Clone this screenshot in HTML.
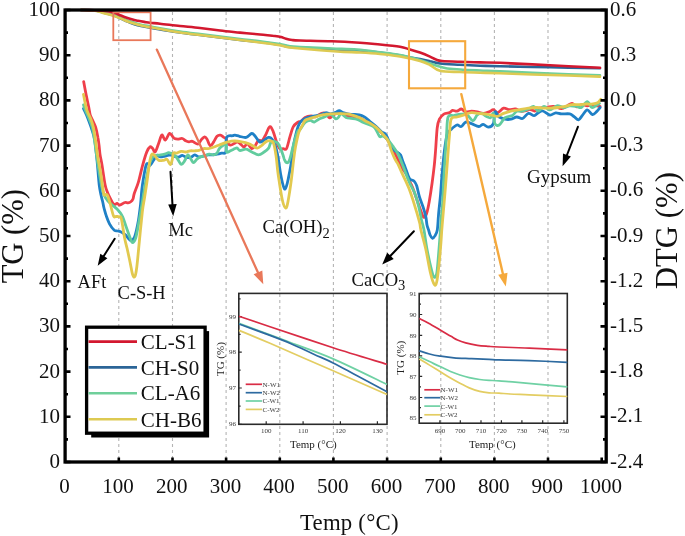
<!DOCTYPE html><html><head><meta charset="utf-8"><style>html,body{margin:0;padding:0;background:#fff;}svg{display:block;filter:blur(0.45px);}</style></head><body>
<svg width="685" height="536" viewBox="0 0 685 536">
<rect width="685" height="536" fill="#fff"/>
<g stroke="#b4b4b4" stroke-width="1.1" stroke-dasharray="3 3"><line x1="118.8" y1="12" x2="118.8" y2="460" /><line x1="172.5" y1="12" x2="172.5" y2="460" /><line x1="226.1" y1="12" x2="226.1" y2="460" /><line x1="279.8" y1="12" x2="279.8" y2="460" /><line x1="333.4" y1="12" x2="333.4" y2="460" /><line x1="387.1" y1="12" x2="387.1" y2="460" /><line x1="440.8" y1="12" x2="440.8" y2="460" /><line x1="494.4" y1="12" x2="494.4" y2="460" /><line x1="548.0" y1="12" x2="548.0" y2="460" /></g>
<rect x="238.8" y="293.4" width="148.2" height="130.90000000000003" fill="none" stroke="#2a2a2a" stroke-width="1.6"/><path d="M238.8,316.6 h3 M238.8,352.2 h3 M238.8,388 h3 M238.8,424.3 h3 M238.8,334.4 h1.8 M238.8,370.1 h1.8 M238.8,406.1 h1.8 M238.8,298.8 h1.8 M266.2,424.3 v-3 M303.1,424.3 v-3 M340.4,424.3 v-3 M377.4,424.3 v-3" stroke="#2a2a2a" stroke-width="1.2" fill="none"/><g font-family="Liberation Serif, serif" font-size="7" fill="#383838"><text x="236" y="318.6" text-anchor="end">99</text><text x="236" y="354.2" text-anchor="end">98</text><text x="236" y="390" text-anchor="end">97</text><text x="236" y="426.3" text-anchor="end">96</text><text x="266.2" y="433" text-anchor="middle">100</text><text x="303.1" y="433" text-anchor="middle">110</text><text x="340.4" y="433" text-anchor="middle">120</text><text x="377.4" y="433" text-anchor="middle">130</text></g><text font-family="Liberation Serif, serif" font-size="11" fill="#222" text-anchor="middle" x="313.3" y="447.8">Temp (&#176;C)</text><text font-family="Liberation Serif, serif" font-size="11" fill="#222" text-anchor="middle" transform="translate(224.4,359.1) rotate(-90)">TG (%)</text><path d="M239.0,316.2 C244.2,317.9 254.3,321.4 270.0,326.7 C285.7,331.9 313.6,341.4 333.1,347.7 C352.6,354.0 378.0,361.5 387.0,364.3" fill="none" stroke="#d92c45" stroke-width="1.7"/><path d="M239.0,323.4 C244.2,325.3 261.3,331.7 270.0,334.9 C278.7,338.1 280.5,338.8 291.0,342.8 C301.5,346.8 317.1,351.9 333.1,358.9 C349.1,365.8 378.0,380.2 387.0,384.5" fill="none" stroke="#6fd1a4" stroke-width="1.7"/><path d="M239.0,324.0 C244.2,325.9 261.3,332.1 270.0,335.4 C278.7,338.7 283.7,340.6 291.0,343.7 C298.3,346.8 306.8,351.0 313.8,354.2 C320.8,357.4 325.8,359.2 333.1,362.9 C340.4,366.5 348.6,371.3 357.6,376.1 C366.6,380.9 382.1,389.2 387.0,391.8" fill="none" stroke="#2d6aa0" stroke-width="1.7"/><path d="M239.0,330.4 C244.2,332.5 254.3,336.6 270.0,343.3 C285.7,350.0 313.6,362.3 333.1,370.8 C352.6,379.3 378.0,390.6 387.0,394.5" fill="none" stroke="#e3cd62" stroke-width="1.7"/><line x1="245.7" y1="384.3" x2="262" y2="384.3" stroke="#d92c45" stroke-width="1.7"/><text font-family="Liberation Serif, serif" font-size="7" fill="#383838" x="262.5" y="386.7">N-W1</text><line x1="245.7" y1="392.7" x2="262" y2="392.7" stroke="#2d6aa0" stroke-width="1.7"/><text font-family="Liberation Serif, serif" font-size="7" fill="#383838" x="262.5" y="395.09999999999997">N-W2</text><line x1="245.7" y1="401" x2="262" y2="401" stroke="#6fd1a4" stroke-width="1.7"/><text font-family="Liberation Serif, serif" font-size="7" fill="#383838" x="262.5" y="403.4">C-W1</text><line x1="245.7" y1="409.4" x2="262" y2="409.4" stroke="#e3cd62" stroke-width="1.7"/><text font-family="Liberation Serif, serif" font-size="7" fill="#383838" x="262.5" y="411.79999999999995">C-W2</text><rect x="419.2" y="293.5" width="148.09999999999997" height="129.7" fill="none" stroke="#2a2a2a" stroke-width="1.6"/><path d="M419.2,293.6 h3 M419.2,314.5 h3 M419.2,335.4 h3 M419.2,355.9 h3 M419.2,376.4 h3 M419.2,397.5 h3 M419.2,417.7 h3 M419.2,304.1 h1.8 M419.2,324.9 h1.8 M419.2,345.6 h1.8 M419.2,366.1 h1.8 M419.2,386.9 h1.8 M419.2,407.6 h1.8 M439.9,423.2 v-3 M460.3,423.2 v-3 M481,423.2 v-3 M501.4,423.2 v-3 M521.9,423.2 v-3 M542.7,423.2 v-3 M563.9,423.2 v-3" stroke="#2a2a2a" stroke-width="1.2" fill="none"/><g font-family="Liberation Serif, serif" font-size="7" fill="#383838"><text x="416.5" y="295.90000000000003" text-anchor="end">91</text><text x="416.5" y="316.8" text-anchor="end">90</text><text x="416.5" y="337.7" text-anchor="end">89</text><text x="416.5" y="358.2" text-anchor="end">88</text><text x="416.5" y="378.7" text-anchor="end">87</text><text x="416.5" y="399.8" text-anchor="end">86</text><text x="416.5" y="420.0" text-anchor="end">85</text><text x="439.9" y="432.5" text-anchor="middle">690</text><text x="460.3" y="432.5" text-anchor="middle">700</text><text x="481" y="432.5" text-anchor="middle">710</text><text x="501.4" y="432.5" text-anchor="middle">720</text><text x="521.9" y="432.5" text-anchor="middle">730</text><text x="542.7" y="432.5" text-anchor="middle">740</text><text x="563.9" y="432.5" text-anchor="middle">750</text></g><text font-family="Liberation Serif, serif" font-size="11" fill="#222" text-anchor="middle" x="492.3" y="447.8">Temp (&#176;C)</text><text font-family="Liberation Serif, serif" font-size="11" fill="#222" text-anchor="middle" transform="translate(404.2,357.7) rotate(-90)">TG (%)</text><path d="M419.3,318.6 C420.9,319.4 425.2,321.3 428.6,323.2 C432.0,325.1 436.1,327.6 439.8,329.8 C443.5,332.0 448.1,334.6 451.0,336.3 C453.9,338.0 455.1,338.9 457.5,340.0 C459.9,341.1 462.4,342.0 465.7,342.9 C469.0,343.8 473.5,344.7 477.4,345.3 C481.3,345.9 485.5,346.1 489.1,346.4 C492.7,346.7 492.3,346.7 499.0,347.0 C505.7,347.3 517.9,347.7 529.3,348.2 C540.7,348.7 561.0,349.5 567.3,349.8" fill="none" stroke="#d92c45" stroke-width="1.7"/><path d="M419.3,350.9 C421.0,351.4 426.1,353.1 429.5,354.0 C432.9,354.9 435.9,355.5 440.0,356.1 C444.1,356.7 448.7,357.4 454.0,357.8 C459.3,358.2 465.8,358.4 471.6,358.7 C477.5,358.9 484.5,359.1 489.1,359.3 C493.7,359.5 492.3,359.7 499.0,359.9 C505.7,360.1 517.9,360.2 529.3,360.6 C540.7,361.0 561.0,362.0 567.3,362.3" fill="none" stroke="#2d6aa0" stroke-width="1.7"/><path d="M419.3,356.8 C421.0,357.6 426.1,360.0 429.5,361.6 C432.9,363.2 436.5,365.0 440.0,366.6 C443.5,368.2 447.2,370.1 450.5,371.5 C453.8,372.9 456.8,374.0 459.9,375.0 C463.0,376.0 465.9,376.9 469.2,377.6 C472.5,378.4 476.4,379.1 479.7,379.5 C483.0,379.9 485.9,380.1 489.1,380.3 C492.3,380.5 495.1,380.6 499.0,380.9 C502.9,381.2 501.1,380.9 512.5,381.9 C523.9,382.9 558.2,386.0 567.3,386.8" fill="none" stroke="#6fd1a4" stroke-width="1.7"/><path d="M419.3,358.9 C421.0,359.9 426.1,363.0 429.5,365.1 C432.9,367.2 436.5,369.4 440.0,371.5 C443.5,373.6 447.2,376.1 450.5,378.0 C453.8,379.9 456.8,381.6 459.9,383.2 C463.0,384.8 465.9,386.5 469.2,387.9 C472.5,389.3 476.4,390.6 479.7,391.4 C483.0,392.2 485.9,392.5 489.1,392.8 C492.3,393.1 495.5,392.9 499.0,393.1 C502.5,393.3 504.9,393.7 510.0,394.0 C515.0,394.3 519.8,394.4 529.3,394.8 C538.8,395.2 561.0,396.2 567.3,396.5" fill="none" stroke="#e3cd62" stroke-width="1.7"/><line x1="424.3" y1="389.8" x2="440.2" y2="389.8" stroke="#d92c45" stroke-width="1.7"/><text font-family="Liberation Serif, serif" font-size="7" fill="#383838" x="440.5" y="392.2">N-W1</text><line x1="424.3" y1="397.7" x2="440.2" y2="397.7" stroke="#2d6aa0" stroke-width="1.7"/><text font-family="Liberation Serif, serif" font-size="7" fill="#383838" x="440.5" y="400.09999999999997">N-W2</text><line x1="424.3" y1="406.1" x2="440.2" y2="406.1" stroke="#6fd1a4" stroke-width="1.7"/><text font-family="Liberation Serif, serif" font-size="7" fill="#383838" x="440.5" y="408.5">C-W1</text><line x1="424.3" y1="414.8" x2="440.2" y2="414.8" stroke="#e3cd62" stroke-width="1.7"/><text font-family="Liberation Serif, serif" font-size="7" fill="#383838" x="440.5" y="417.2">C-W2</text>
<path d="M81.0,10.0 C83.7,10.1 93.0,10.1 97.0,10.6 C101.0,11.1 102.0,12.1 105.0,13.0 C108.0,13.9 111.7,14.6 115.0,15.8 C118.3,17.1 121.7,19.1 125.0,20.5 C128.3,21.9 130.8,23.3 135.0,24.5 C139.2,25.7 145.9,27.0 150.1,27.8 C154.3,28.6 155.0,28.7 160.0,29.5 C165.0,30.3 173.3,31.6 180.0,32.5 C186.7,33.4 193.3,34.2 200.0,35.0 C206.7,35.8 213.3,36.7 220.0,37.5 C226.7,38.3 233.3,39.2 240.0,40.0 C246.7,40.8 253.7,41.2 260.0,42.0 C266.3,42.8 273.0,43.7 278.0,44.5 C283.0,45.3 286.3,46.5 290.0,47.0 C293.7,47.5 293.0,47.4 300.0,47.8 C307.0,48.2 322.0,48.8 332.0,49.2 C342.0,49.7 352.0,50.0 360.0,50.5 C368.0,51.0 373.3,51.7 380.0,52.5 C386.7,53.3 395.0,54.7 400.0,55.5 C405.0,56.3 406.7,56.9 410.0,57.5 C413.3,58.1 416.7,58.4 420.0,59.0 C423.3,59.6 426.7,60.5 430.0,61.3 C433.3,62.0 435.0,62.9 440.0,63.5 C445.0,64.1 453.3,64.4 460.0,64.8 C466.7,65.2 473.3,65.5 480.0,65.7 C486.7,65.9 488.3,65.9 500.0,66.2 C511.7,66.5 533.3,67.0 550.0,67.3 C566.7,67.6 591.7,68.1 600.0,68.3" fill="none" stroke="#2b6597" stroke-width="2.6" stroke-linejoin="round" stroke-linecap="round"/>
<path d="M81.0,10.0 C83.3,10.1 91.3,10.0 95.0,10.4 C98.7,10.8 100.2,11.7 103.0,12.4 C105.8,13.1 109.0,13.6 112.0,14.5 C115.0,15.4 118.1,16.7 120.9,17.8 C123.7,18.9 125.8,19.9 129.0,21.0 C132.2,22.1 136.5,23.6 140.0,24.5 C143.5,25.4 146.8,25.8 150.1,26.4 C153.4,27.0 155.0,27.3 160.0,28.2 C165.0,29.1 173.3,30.5 180.0,31.5 C186.7,32.5 193.3,33.2 200.0,34.0 C206.7,34.8 213.3,35.7 220.0,36.5 C226.7,37.3 233.3,38.2 240.0,39.0 C246.7,39.8 253.7,40.4 260.0,41.2 C266.3,42.0 273.0,43.0 278.0,43.8 C283.0,44.6 286.3,45.7 290.0,46.2 C293.7,46.7 293.0,46.6 300.0,47.0 C307.0,47.4 322.5,48.1 332.0,48.5 C341.5,48.9 349.0,48.9 357.0,49.5 C365.0,50.1 372.8,51.3 380.0,52.2 C387.2,53.1 393.3,53.7 400.0,55.0 C406.7,56.3 415.0,58.6 420.0,60.0 C425.0,61.4 425.8,62.2 430.0,63.5 C434.2,64.8 440.0,67.0 445.0,68.0 C450.0,69.0 454.2,69.1 460.0,69.5 C465.8,69.9 473.3,70.2 480.0,70.5 C486.7,70.8 488.3,70.7 500.0,71.2 C511.7,71.7 533.3,72.8 550.0,73.5 C566.7,74.2 591.7,75.1 600.0,75.4" fill="none" stroke="#6fcf9a" stroke-width="2.6" stroke-linejoin="round" stroke-linecap="round"/>
<path d="M81.0,10.0 C83.3,10.1 91.3,10.2 95.0,10.7 C98.7,11.2 100.2,12.2 103.0,13.0 C105.8,13.8 109.0,14.3 112.0,15.2 C115.0,16.1 118.1,17.5 120.9,18.6 C123.7,19.7 125.8,20.9 129.0,22.0 C132.2,23.1 136.5,24.4 140.0,25.3 C143.5,26.2 146.8,26.7 150.1,27.3 C153.4,27.9 155.0,28.1 160.0,29.0 C165.0,29.9 173.3,31.5 180.0,32.5 C186.7,33.5 193.3,34.2 200.0,35.0 C206.7,35.8 213.3,36.7 220.0,37.5 C226.7,38.3 233.3,39.2 240.0,40.0 C246.7,40.8 253.7,41.7 260.0,42.5 C266.3,43.3 273.0,44.2 278.0,45.0 C283.0,45.8 286.3,46.9 290.0,47.5 C293.7,48.1 292.2,47.8 300.0,48.5 C307.8,49.2 327.0,50.8 337.0,51.5 C347.0,52.2 352.8,52.1 360.0,52.5 C367.2,52.9 373.3,53.3 380.0,54.0 C386.7,54.7 393.3,55.3 400.0,56.5 C406.7,57.7 415.0,59.6 420.0,61.0 C425.0,62.4 426.7,63.4 430.0,65.0 C433.3,66.6 435.0,69.6 440.0,70.8 C445.0,72.0 453.3,71.7 460.0,72.0 C466.7,72.3 473.3,72.5 480.0,72.7 C486.7,72.9 488.3,72.9 500.0,73.3 C511.7,73.7 533.3,74.5 550.0,75.0 C566.7,75.5 591.7,76.3 600.0,76.6" fill="none" stroke="#ddca52" stroke-width="2.6" stroke-linejoin="round" stroke-linecap="round"/>
<path d="M81.0,10.0 C83.3,10.1 91.3,10.2 95.0,10.3 C98.7,10.4 100.6,10.6 103.0,10.8 C105.4,11.0 107.2,11.0 109.2,11.4 C111.2,11.8 113.0,12.3 115.0,13.0 C117.0,13.7 119.1,14.8 120.9,15.5 C122.7,16.2 124.0,16.8 126.0,17.5 C128.0,18.2 130.6,19.1 132.6,19.6 C134.6,20.2 136.1,20.4 138.0,20.8 C139.9,21.2 142.2,21.6 144.2,21.9 C146.2,22.2 147.4,22.5 150.0,22.8 C152.6,23.1 155.0,23.2 160.0,23.7 C165.0,24.2 173.3,25.3 180.0,26.0 C186.7,26.7 193.3,27.2 200.0,28.0 C206.7,28.8 213.3,29.7 220.0,30.5 C226.7,31.3 233.3,31.9 240.0,32.6 C246.7,33.3 254.2,33.9 260.0,34.5 C265.8,35.1 271.5,35.6 275.0,36.0 C278.5,36.4 279.2,36.5 281.0,37.0 C282.8,37.5 284.2,38.3 286.0,38.8 C287.8,39.3 289.7,39.7 292.0,40.0 C294.3,40.3 293.3,40.3 300.0,40.5 C306.7,40.7 322.0,40.9 332.0,41.3 C342.0,41.7 352.0,42.3 360.0,42.8 C368.0,43.3 373.3,43.9 380.0,44.5 C386.7,45.1 395.2,45.9 400.0,46.7 C404.8,47.5 405.7,48.2 409.0,49.2 C412.3,50.2 416.5,51.4 420.0,52.6 C423.5,53.8 427.3,55.4 430.0,56.6 C432.7,57.8 434.0,58.9 436.0,59.6 C438.0,60.3 438.0,60.6 442.0,61.0 C446.0,61.4 453.7,61.6 460.0,61.8 C466.3,62.0 473.3,62.2 480.0,62.4 C486.7,62.6 488.3,62.3 500.0,62.8 C511.7,63.3 533.3,64.5 550.0,65.3 C566.7,66.1 591.7,67.3 600.0,67.7" fill="none" stroke="#d3182f" stroke-width="2.6" stroke-linejoin="round" stroke-linecap="round"/>
<path d="M83.7,81.7 C84.1,83.9 85.4,91.0 86.2,95.0 C87.0,99.0 87.8,102.8 88.5,106.0 C89.2,109.2 89.5,112.2 90.1,114.5 C90.7,116.8 91.4,117.4 92.3,119.6 C93.2,121.8 94.8,124.5 95.7,127.5 C96.6,130.5 97.4,134.6 97.9,137.5 C98.5,140.4 98.6,142.1 99.0,145.0 C99.4,147.9 99.6,151.7 100.1,155.0 C100.6,158.3 101.2,160.0 102.0,165.0 C102.8,170.0 104.2,180.3 105.1,184.8 C106.0,189.3 106.6,190.0 107.4,192.2 C108.2,194.4 109.1,196.2 110.0,198.0 C110.9,199.8 111.8,201.6 112.6,202.7 C113.4,203.8 114.3,204.4 115.0,204.5 C115.7,204.6 116.2,203.4 117.0,203.5 C117.8,203.6 118.7,204.9 119.5,205.0 C120.3,205.1 121.1,204.4 122.0,204.0 C122.9,203.6 124.0,202.7 125.0,202.5 C126.0,202.3 127.1,202.9 128.0,202.8 C128.9,202.7 129.7,202.6 130.5,202.0 C131.3,201.4 132.4,200.4 133.0,199.0 C133.6,197.6 133.3,196.6 134.2,193.8 C135.1,191.0 137.0,186.8 138.4,182.1 C139.8,177.3 141.2,170.3 142.6,165.3 C144.0,160.3 145.5,155.0 146.8,151.9 C148.1,148.8 149.2,147.4 150.2,146.8 C151.2,146.2 151.9,147.7 152.7,148.5 C153.5,149.3 154.2,152.7 155.2,151.9 C156.2,151.1 157.5,146.3 158.6,143.5 C159.7,140.7 160.8,135.7 161.9,135.1 C163.0,134.5 164.0,140.4 165.3,140.1 C166.6,139.8 168.2,133.9 169.5,133.4 C170.8,132.9 172.0,136.0 172.8,136.8 C173.6,137.7 173.7,138.1 174.5,138.5 C175.3,138.9 176.5,139.1 177.8,139.1 C179.1,139.1 181.0,138.2 182.3,138.5 C183.6,138.8 184.6,140.2 185.7,140.8 C186.8,141.4 187.9,141.8 189.0,141.9 C190.1,142.0 190.9,140.9 192.4,141.3 C193.9,141.7 196.5,144.4 198.0,144.1 C199.5,143.8 200.3,140.8 201.4,139.6 C202.5,138.4 203.8,136.9 204.7,136.8 C205.6,136.7 206.1,137.6 207.0,139.1 C207.9,140.6 209.2,145.3 210.3,145.8 C211.4,146.3 212.6,143.5 213.7,141.9 C214.8,140.3 215.9,137.4 217.0,136.3 C218.1,135.2 219.3,135.0 220.4,135.2 C221.5,135.4 222.9,136.8 223.8,137.4 C224.7,138.0 225.4,137.8 226.0,138.5 C226.6,139.2 226.3,140.8 227.1,141.9 C227.8,143.0 229.2,145.0 230.5,145.2 C231.8,145.4 233.9,143.6 235.0,143.0 C236.1,142.4 236.4,141.8 237.2,141.9 C238.0,142.0 238.9,142.7 240.0,143.5 C241.1,144.3 242.8,147.0 244.0,147.0 C245.2,147.0 246.0,143.3 247.3,143.6 C248.6,143.9 250.5,148.2 251.8,148.6 C253.1,149.0 254.1,147.2 255.2,145.8 C256.3,144.4 257.4,141.0 258.5,140.2 C259.6,139.4 260.8,141.5 261.9,140.8 C263.0,140.1 263.9,138.1 265.2,135.8 C266.5,133.5 268.4,127.5 269.7,126.8 C271.0,126.0 272.0,128.9 273.1,131.3 C274.2,133.7 275.3,138.5 276.4,141.4 C277.5,144.3 278.7,147.4 279.8,148.6 C280.9,149.8 282.1,148.6 283.2,148.6 C284.3,148.6 285.4,150.5 286.5,148.6 C287.6,146.7 288.8,140.5 289.9,136.9 C291.0,133.3 291.9,129.2 293.2,126.8 C294.5,124.4 296.4,123.2 297.7,122.3 C299.0,121.4 299.9,122.0 301.1,121.2 C302.3,120.4 303.4,118.3 305.1,117.4 C306.8,116.5 309.5,115.9 311.2,115.8 C312.9,115.7 313.6,117.3 315.3,116.9 C317.0,116.5 319.8,113.9 321.5,113.3 C323.2,112.7 324.1,112.5 325.5,113.3 C326.9,114.1 328.4,117.6 329.6,117.9 C330.8,118.2 331.2,116.2 332.7,115.3 C334.2,114.4 337.1,112.6 338.8,112.3 C340.5,112.0 341.4,112.6 342.9,113.3 C344.4,114.0 346.6,115.9 348.0,116.4 C349.4,116.9 349.8,116.3 351.1,116.4 C352.4,116.5 354.3,116.7 356.0,117.0 C357.7,117.3 359.6,117.7 361.3,118.4 C363.0,119.2 364.8,120.7 366.4,121.5 C367.9,122.3 369.0,122.0 370.6,123.0 C372.2,124.0 374.3,125.9 376.2,127.6 C378.1,129.3 379.9,131.0 381.8,133.0 C383.7,135.0 385.7,137.3 387.4,139.7 C389.1,142.1 390.8,145.5 391.9,147.6 C393.0,149.7 393.0,149.8 394.1,152.0 C395.2,154.2 397.3,158.3 398.6,161.0 C399.9,163.7 400.7,165.8 402.0,168.0 C403.3,170.2 405.0,172.0 406.2,174.0 C407.4,176.0 407.9,178.0 409.0,180.2 C410.1,182.4 411.1,183.7 412.5,187.2 C413.9,190.7 416.0,197.2 417.4,201.2 C418.8,205.2 419.8,208.3 420.9,211.0 C421.9,213.7 422.8,216.8 423.7,217.3 C424.6,217.8 425.6,216.5 426.5,213.8 C427.4,211.1 428.4,206.3 429.3,201.2 C430.2,196.1 431.3,188.8 432.1,183.0 C432.9,177.2 433.6,171.7 434.2,166.2 C434.8,160.7 435.1,156.4 435.6,150.0 C436.1,143.6 436.6,133.1 437.2,128.0 C437.8,122.9 438.3,121.5 439.4,119.2 C440.5,116.9 442.1,115.2 443.8,114.1 C445.5,113.0 448.2,113.2 449.6,112.6 C451.1,112.0 451.3,110.6 452.5,110.4 C453.7,110.2 455.4,111.4 456.9,111.2 C458.4,111.0 459.8,108.9 461.3,109.0 C462.8,109.1 464.0,111.5 465.7,111.9 C467.4,112.3 469.6,111.2 471.5,111.2 C473.4,111.2 475.4,111.5 477.3,111.9 C479.2,112.3 481.2,113.4 483.2,113.4 C485.1,113.4 487.3,112.5 489.0,111.9 C490.7,111.3 491.9,109.6 493.4,109.7 C494.9,109.8 496.1,112.8 497.8,112.6 C499.5,112.3 501.7,108.7 503.6,108.2 C505.6,107.7 507.6,109.6 509.5,109.7 C511.4,109.8 513.4,108.8 515.3,109.0 C517.2,109.2 519.1,111.0 521.1,111.2 C523.1,111.4 525.5,110.7 527.0,110.4 C528.5,110.1 528.7,109.2 530.0,109.3 C531.3,109.4 533.2,111.2 534.7,111.0 C536.2,110.8 537.3,108.7 539.3,108.1 C541.2,107.5 544.0,107.8 546.4,107.5 C548.8,107.2 550.9,106.2 553.4,106.4 C555.9,106.6 559.2,108.8 561.5,108.7 C563.8,108.6 565.6,106.7 567.4,105.8 C569.1,104.9 570.5,103.2 572.0,103.4 C573.5,103.6 575.1,106.7 576.7,106.9 C578.3,107.1 579.6,104.8 581.4,104.6 C583.1,104.4 585.5,105.7 587.2,105.8 C589.0,105.9 589.8,105.1 591.9,105.2 C594.0,105.3 598.7,106.2 600.1,106.4" fill="none" stroke="#ef3f4a" stroke-width="2.8" stroke-linejoin="round" stroke-linecap="round"/>
<path d="M83.5,108.6 C84.0,109.7 85.5,112.6 86.5,115.0 C87.5,117.4 88.6,120.3 89.5,122.8 C90.4,125.3 91.1,127.1 92.0,130.0 C92.9,132.9 93.9,135.0 94.7,140.0 C95.5,145.0 96.2,152.5 97.0,160.0 C97.8,167.5 98.5,179.0 99.2,184.8 C99.9,190.6 100.4,192.0 101.0,195.0 C101.6,198.0 102.4,200.5 102.9,202.7 C103.4,204.9 103.4,205.8 104.0,208.0 C104.6,210.2 105.4,213.3 106.3,215.9 C107.2,218.5 108.2,221.4 109.5,223.8 C110.8,226.2 113.0,229.0 114.3,230.2 C115.6,231.4 116.5,230.8 117.5,231.0 C118.5,231.2 119.3,231.0 120.6,231.7 C121.9,232.3 124.2,233.8 125.4,234.9 C126.6,236.0 127.1,237.1 128.0,238.0 C128.9,238.9 130.0,240.5 131.0,240.5 C132.0,240.5 133.2,239.8 134.1,238.0 C135.0,236.2 135.8,233.0 136.5,230.0 C137.2,227.0 137.8,224.2 138.5,220.0 C139.2,215.8 139.9,210.0 140.5,205.0 C141.1,200.0 141.3,194.5 141.8,190.0 C142.3,185.5 142.8,182.1 143.5,178.0 C144.2,173.9 145.3,167.7 146.0,165.3 C146.7,162.9 147.0,163.6 147.7,163.6 C148.4,163.6 149.2,165.9 150.2,165.3 C151.2,164.8 152.4,162.0 153.5,160.3 C154.6,158.6 155.8,155.8 156.9,155.2 C158.0,154.6 158.8,156.8 160.2,156.9 C161.6,157.1 163.6,156.4 165.3,156.1 C167.0,155.8 168.8,154.8 170.3,154.8 C171.8,154.9 173.1,156.0 174.5,156.4 C175.9,156.8 177.7,157.2 179.0,157.0 C180.3,156.8 181.0,155.2 182.3,155.3 C183.6,155.4 185.3,157.3 186.8,157.6 C188.3,157.9 190.0,157.5 191.3,157.0 C192.6,156.5 193.3,154.8 194.6,154.8 C195.9,154.8 197.6,156.8 199.1,157.0 C200.6,157.2 202.1,156.3 203.6,155.9 C205.1,155.5 206.6,155.0 208.1,154.8 C209.6,154.6 211.1,154.9 212.6,154.8 C214.1,154.7 215.5,154.5 217.0,154.2 C218.5,153.9 220.0,153.5 221.5,153.1 C223.0,152.7 225.0,154.6 225.8,152.0 C226.7,149.4 225.4,140.1 226.6,137.4 C227.8,134.7 231.3,136.1 232.7,135.7 C234.1,135.3 233.9,135.1 235.0,135.2 C236.1,135.3 237.6,135.9 239.5,136.3 C241.4,136.7 244.1,137.9 246.2,137.4 C248.2,136.9 250.3,133.7 251.8,133.5 C253.3,133.3 253.9,134.9 255.2,136.3 C256.5,137.7 258.1,141.2 259.6,141.9 C261.1,142.6 262.6,140.9 264.1,140.2 C265.6,139.4 267.3,137.6 268.6,137.4 C269.9,137.2 270.9,137.7 272.0,139.1 C273.1,140.5 274.4,143.2 275.3,145.8 C276.2,148.4 277.1,152.4 277.6,154.8 C278.1,157.2 278.0,156.7 278.5,160.0 C279.0,163.3 280.0,170.7 280.7,174.5 C281.4,178.3 281.9,180.6 282.5,183.0 C283.1,185.4 283.9,188.6 284.6,189.1 C285.3,189.6 285.9,187.5 286.5,186.0 C287.1,184.5 287.3,183.5 288.0,180.1 C288.7,176.7 289.9,171.1 290.8,165.6 C291.7,160.1 292.2,152.7 293.2,147.0 C294.2,141.3 295.5,135.4 296.6,131.3 C297.7,127.2 298.6,124.7 300.0,122.5 C301.4,120.3 303.1,119.4 305.1,118.4 C307.2,117.4 310.1,116.9 312.3,116.4 C314.5,115.9 316.2,115.9 318.4,115.3 C320.6,114.7 323.4,113.0 325.5,112.8 C327.6,112.5 329.0,113.9 330.7,113.8 C332.4,113.7 334.4,112.8 335.8,112.3 C337.2,111.8 338.0,110.6 339.3,110.7 C340.6,110.8 341.9,112.2 343.9,112.8 C345.9,113.4 348.5,114.0 351.1,114.3 C353.7,114.6 357.1,114.4 359.3,114.8 C361.5,115.2 362.6,115.8 364.4,116.9 C366.2,118.0 368.0,119.9 370.0,121.5 C372.0,123.1 374.2,124.8 376.2,126.5 C378.2,128.2 380.1,130.6 381.8,132.0 C383.5,133.4 384.6,132.5 386.3,135.2 C388.0,137.9 389.8,145.0 391.9,148.0 C393.9,151.0 397.2,152.0 398.6,153.2 C400.1,154.4 399.9,153.5 400.6,155.0 C401.4,156.5 402.4,160.2 403.1,162.1 C403.8,164.0 403.9,163.9 404.8,166.2 C405.7,168.5 407.4,173.8 408.3,176.0 C409.2,178.2 409.5,178.7 410.4,179.5 C411.3,180.3 412.8,179.8 413.9,180.9 C414.9,182.0 415.8,183.1 416.7,185.8 C417.6,188.5 418.4,193.5 419.5,197.0 C420.6,200.5 421.9,203.5 423.0,206.8 C424.1,210.1 425.1,213.6 425.8,216.6 C426.5,219.6 426.5,222.8 427.0,225.0 C427.5,227.2 428.1,228.4 428.6,230.0 C429.1,231.6 429.4,233.3 430.0,234.7 C430.6,236.1 431.7,238.1 432.5,238.3 C433.3,238.5 434.1,237.3 434.9,235.9 C435.7,234.5 436.7,233.4 437.3,229.9 C437.9,226.4 438.0,220.8 438.5,215.0 C439.0,209.2 439.9,201.7 440.5,195.0 C441.1,188.3 441.3,182.5 442.0,175.0 C442.7,167.5 443.6,156.9 444.5,150.0 C445.4,143.1 446.3,137.2 447.4,133.8 C448.5,130.4 449.5,130.9 451.1,129.4 C452.7,127.9 455.2,125.5 456.9,125.0 C458.6,124.5 459.8,127.0 461.3,126.5 C462.8,126.0 464.0,122.6 465.7,122.1 C467.4,121.6 469.3,122.9 471.5,123.6 C473.7,124.3 476.9,126.4 478.8,126.5 C480.8,126.6 481.6,124.2 483.2,124.3 C484.8,124.4 486.6,127.3 488.3,127.2 C490.0,127.1 492.3,126.1 493.4,123.6 C494.5,121.0 493.9,113.0 494.9,111.9 C495.9,110.8 497.5,115.8 499.2,117.0 C500.9,118.2 503.2,118.8 505.1,119.2 C507.1,119.6 508.9,119.6 510.9,119.2 C512.8,118.8 514.8,117.1 516.8,117.0 C518.8,116.9 520.7,119.1 522.6,118.5 C524.5,117.9 526.5,113.9 528.4,113.4 C530.3,112.9 532.5,115.8 534.1,115.7 C535.7,115.6 536.8,113.6 538.2,112.8 C539.7,112.0 540.8,110.6 542.8,111.0 C544.8,111.4 547.8,114.8 549.9,115.1 C552.0,115.4 553.8,113.0 555.7,112.8 C557.6,112.6 559.2,113.7 561.5,113.9 C563.8,114.1 567.6,113.4 569.7,113.9 C571.9,114.4 572.9,115.9 574.4,116.9 C575.9,117.9 577.1,120.1 578.5,119.8 C579.9,119.5 581.1,116.8 582.6,115.1 C584.1,113.4 585.6,110.0 587.2,109.9 C588.9,109.8 590.9,114.2 592.5,114.5 C594.1,114.8 595.3,112.8 596.6,111.6 C597.9,110.4 599.5,108.2 600.1,107.5" fill="none" stroke="#1f80c6" stroke-width="2.8" stroke-linejoin="round" stroke-linecap="round"/>
<path d="M83.5,104.9 C83.8,105.9 84.7,108.4 85.6,110.7 C86.5,113.0 87.9,115.7 89.0,118.5 C90.1,121.3 91.4,123.9 92.3,127.5 C93.2,131.1 93.8,135.4 94.5,140.0 C95.2,144.6 95.8,150.3 96.5,155.0 C97.2,159.7 97.7,163.0 98.5,168.0 C99.3,173.0 100.5,180.3 101.4,184.8 C102.3,189.3 102.9,192.3 104.0,195.0 C105.1,197.7 106.7,199.4 108.0,201.0 C109.3,202.6 110.3,203.4 111.9,204.8 C113.5,206.2 115.8,207.7 117.5,209.5 C119.2,211.3 120.8,213.0 122.2,215.9 C123.7,218.8 124.9,223.3 126.2,227.0 C127.5,230.7 129.1,235.4 130.2,238.0 C131.2,240.6 131.6,242.5 132.5,242.5 C133.4,242.5 134.6,241.4 135.7,238.0 C136.8,234.6 138.0,226.7 138.9,222.0 C139.8,217.3 140.2,214.5 141.0,210.0 C141.8,205.5 142.7,200.0 143.5,195.0 C144.3,190.0 145.2,184.5 146.0,180.0 C146.8,175.5 147.8,171.0 148.5,168.0 C149.2,165.0 149.4,164.0 150.2,162.0 C151.0,160.0 152.1,157.2 153.5,156.1 C154.9,155.0 156.9,155.5 158.6,155.2 C160.3,154.9 161.9,154.8 163.6,154.4 C165.3,154.0 167.5,152.9 168.6,152.7 C169.7,152.5 169.2,152.8 170.0,153.1 C170.8,153.3 172.3,153.4 173.4,154.2 C174.5,154.9 175.4,155.9 176.7,157.6 C178.0,159.3 179.9,163.8 181.2,164.3 C182.5,164.9 183.5,162.5 184.6,160.9 C185.7,159.3 186.8,155.0 187.9,154.8 C189.0,154.6 190.4,158.5 191.3,159.8 C192.2,161.1 192.6,162.7 193.5,162.6 C194.4,162.5 195.8,160.1 196.9,159.2 C198.0,158.3 198.9,157.6 200.2,157.0 C201.5,156.4 203.2,156.4 204.7,155.9 C206.2,155.4 207.7,154.4 209.2,154.2 C210.7,154.0 212.4,155.0 213.7,154.8 C215.0,154.6 216.1,154.1 217.0,153.1 C217.9,152.1 218.4,149.8 219.3,148.6 C220.2,147.4 221.5,146.6 222.6,145.8 C223.7,145.1 225.3,143.1 226.0,144.1 C226.7,145.1 225.8,150.9 226.6,152.0 C227.3,153.1 229.1,151.4 230.5,150.8 C231.9,150.2 233.9,149.1 235.0,148.6 C236.1,148.1 236.4,147.7 237.2,148.0 C238.0,148.3 238.5,150.3 240.0,150.5 C241.5,150.7 244.2,148.9 246.2,149.2 C248.2,149.4 249.8,151.1 251.8,152.0 C253.9,152.9 256.4,154.8 258.5,154.8 C260.6,154.8 262.4,153.1 264.1,152.0 C265.8,150.9 267.5,149.7 268.6,148.1 C269.7,146.5 269.9,143.6 270.8,142.5 C271.7,141.4 273.1,141.3 274.2,141.4 C275.3,141.5 276.5,141.7 277.6,143.0 C278.7,144.3 280.0,147.2 280.9,149.2 C281.8,151.2 282.4,153.3 283.0,155.0 C283.6,156.7 283.8,158.1 284.3,159.3 C284.9,160.6 285.6,162.1 286.3,162.5 C287.1,162.9 288.0,162.8 288.8,161.5 C289.6,160.2 290.1,158.2 291.0,154.8 C291.9,151.5 293.3,145.3 294.4,141.4 C295.5,137.5 296.8,133.3 297.7,131.3 C298.6,129.3 298.8,131.1 300.0,129.6 C301.2,128.1 303.4,124.0 305.1,122.5 C306.8,121.0 308.7,120.5 310.2,120.4 C311.7,120.3 312.9,122.2 314.3,122.0 C315.7,121.8 316.7,120.2 318.4,119.4 C320.1,118.6 322.4,117.8 324.5,116.9 C326.6,116.1 328.8,114.0 330.7,114.3 C332.6,114.6 334.4,118.5 335.8,118.9 C337.2,119.3 338.0,117.8 338.8,116.9 C339.6,116.0 339.7,113.2 340.9,113.3 C342.1,113.4 344.3,116.6 346.0,117.4 C347.7,118.2 349.2,118.1 351.1,118.4 C353.0,118.7 355.1,118.7 357.2,119.4 C359.2,120.1 361.3,121.6 363.4,122.5 C365.5,123.4 368.1,124.1 370.0,125.0 C371.9,125.9 373.4,126.1 375.0,128.0 C376.6,129.9 378.3,135.1 379.6,136.4 C380.9,137.7 381.6,135.4 383.0,136.0 C384.4,136.6 386.3,138.3 388.0,140.0 C389.7,141.7 391.3,144.1 393.0,146.4 C394.7,148.7 396.3,150.7 398.0,154.0 C399.7,157.3 401.2,161.4 403.0,166.0 C404.8,170.6 407.1,177.1 409.0,181.6 C410.9,186.1 413.0,188.6 414.6,192.8 C416.2,197.0 417.7,202.3 418.8,206.8 C419.9,211.3 420.6,216.1 421.5,220.0 C422.4,223.9 423.1,225.1 424.0,230.0 C424.9,234.9 425.7,242.5 427.0,249.3 C428.3,256.2 430.6,266.5 431.8,271.1 C433.0,275.8 433.5,276.8 434.3,277.2 C435.1,277.6 436.0,277.1 436.7,273.5 C437.4,269.9 437.9,262.2 438.5,255.3 C439.1,248.4 439.8,239.0 440.3,232.3 C440.8,225.6 441.1,219.2 441.5,215.0 C441.9,210.8 441.9,215.2 442.4,207.0 C442.9,198.8 443.8,177.9 444.5,166.0 C445.2,154.1 445.9,143.5 446.5,135.3 C447.1,127.1 446.9,120.3 448.1,117.0 C449.4,113.7 451.8,116.0 454.0,115.5 C456.2,115.0 459.1,114.2 461.3,114.1 C463.5,114.0 465.2,113.7 467.1,114.8 C469.1,115.9 471.3,120.7 473.0,120.7 C474.7,120.7 475.9,116.0 477.3,114.8 C478.8,113.6 480.2,113.2 481.7,113.4 C483.2,113.7 484.6,115.6 486.1,116.3 C487.6,117.0 489.3,118.2 490.5,117.7 C491.7,117.2 492.7,112.4 493.4,113.4 C494.1,114.4 493.9,121.7 494.9,123.6 C495.9,125.5 497.5,126.0 499.2,125.0 C500.9,124.0 502.9,119.3 505.1,117.7 C507.3,116.1 510.4,116.6 512.4,115.5 C514.3,114.4 515.1,111.9 516.8,111.2 C518.5,110.5 520.7,111.6 522.6,111.2 C524.5,110.8 526.6,109.8 528.4,109.0 C530.2,108.2 531.9,106.1 533.5,106.4 C535.1,106.7 536.5,111.0 538.2,111.0 C540.0,111.0 542.0,106.6 544.0,106.4 C546.0,106.2 547.8,110.0 549.9,109.9 C552.0,109.8 554.6,106.2 556.9,105.8 C559.2,105.4 561.8,107.5 563.9,107.5 C566.0,107.5 567.6,106.0 569.7,105.8 C571.8,105.6 574.8,106.1 576.7,106.4 C578.7,106.7 579.6,108.3 581.4,107.5 C583.1,106.7 585.5,101.7 587.2,101.7 C589.0,101.7 590.3,106.9 591.9,107.5 C593.5,108.1 595.3,105.9 596.6,105.2 C597.9,104.5 599.0,103.7 599.5,103.4" fill="none" stroke="#62cc9e" stroke-width="2.8" stroke-linejoin="round" stroke-linecap="round"/>
<path d="M83.5,94.4 C84.0,96.9 85.5,105.6 86.7,109.6 C87.9,113.6 89.5,115.5 90.6,118.5 C91.7,121.5 92.6,123.9 93.4,127.5 C94.2,131.1 94.8,135.4 95.5,140.0 C96.2,144.6 96.6,149.2 97.5,155.0 C98.4,160.8 100.0,168.6 101.0,175.0 C102.0,181.4 103.0,190.4 103.7,193.7 C104.5,196.9 104.9,194.2 105.5,194.5 C106.1,194.8 106.7,193.8 107.4,195.2 C108.2,196.6 109.0,199.6 110.0,203.0 C111.0,206.4 112.5,213.7 113.5,215.9 C114.5,218.2 115.1,216.4 116.0,216.5 C116.9,216.6 118.1,216.3 119.0,216.7 C119.9,217.1 120.5,215.4 121.4,219.0 C122.3,222.6 123.7,233.2 124.6,238.0 C125.5,242.8 126.2,244.5 127.0,248.0 C127.8,251.5 128.7,255.7 129.4,259.0 C130.1,262.3 130.7,265.4 131.2,268.0 C131.7,270.6 132.1,273.0 132.6,274.5 C133.1,276.0 133.7,277.2 134.2,277.2 C134.7,277.2 135.2,276.2 135.6,274.5 C136.0,272.8 136.2,271.8 136.8,267.0 C137.4,262.2 138.0,255.2 138.9,246.0 C139.8,236.8 141.4,220.0 142.3,212.0 C143.2,204.0 143.8,202.5 144.5,198.0 C145.2,193.5 145.8,189.6 146.5,185.0 C147.2,180.4 147.9,174.5 148.5,170.3 C149.1,166.1 149.4,162.7 150.0,160.0 C150.6,157.3 151.1,155.2 151.8,154.4 C152.5,153.6 153.3,154.2 154.4,155.2 C155.5,156.2 157.1,159.5 158.6,160.3 C160.1,161.2 162.2,160.5 163.6,160.3 C165.0,160.2 165.9,158.7 167.0,159.4 C168.1,160.1 169.4,164.4 170.3,164.5 C171.2,164.6 171.7,161.7 172.2,159.8 C172.7,157.9 172.7,154.2 173.4,153.1 C174.2,152.0 175.4,153.4 176.7,153.1 C178.0,152.8 179.7,151.6 181.2,151.4 C182.7,151.2 184.2,152.1 185.7,152.0 C187.2,151.9 188.7,151.0 190.2,150.8 C191.7,150.6 193.1,150.9 194.6,150.8 C196.1,150.7 197.6,150.7 199.1,150.3 C200.6,149.9 202.1,148.9 203.6,148.6 C205.1,148.3 206.6,148.8 208.1,148.6 C209.6,148.4 211.1,148.0 212.6,147.5 C214.1,147.0 215.5,146.4 217.0,145.8 C218.5,145.2 220.0,144.7 221.5,144.1 C223.0,143.5 224.5,142.9 226.0,142.4 C227.5,141.9 229.0,141.5 230.5,141.3 C232.0,141.1 233.1,140.9 235.0,141.0 C236.9,141.1 239.5,141.5 241.7,141.9 C243.9,142.3 246.5,142.9 248.4,143.6 C250.3,144.2 251.4,145.1 252.9,145.8 C254.4,146.6 255.9,148.2 257.4,148.1 C258.9,148.0 260.4,146.4 261.9,145.3 C263.4,144.2 264.9,142.2 266.4,141.4 C267.9,140.7 269.6,140.4 270.8,140.8 C272.0,141.2 272.8,141.3 273.6,143.6 C274.5,145.9 275.2,150.4 275.9,154.8 C276.6,159.2 277.1,165.8 277.6,170.0 C278.1,174.2 278.2,175.0 279.0,180.1 C279.8,185.2 281.3,195.6 282.4,200.3 C283.5,205.0 284.8,207.9 285.7,208.1 C286.6,208.3 287.1,206.1 288.0,201.4 C288.9,196.7 290.4,187.0 291.3,180.1 C292.2,173.2 292.9,165.5 293.6,160.0 C294.3,154.5 294.6,151.6 295.5,147.0 C296.4,142.4 297.7,136.0 298.8,132.4 C299.9,128.8 301.1,127.7 302.2,125.7 C303.2,123.7 303.8,121.6 305.1,120.4 C306.4,119.2 308.5,119.0 310.2,118.4 C311.9,117.8 313.6,117.4 315.3,116.9 C317.0,116.4 318.7,115.7 320.4,115.3 C322.1,114.9 323.8,114.5 325.5,114.3 C327.2,114.0 327.3,113.9 330.7,113.8 C334.1,113.7 342.6,113.6 346.0,113.8 C349.4,114.0 349.4,114.4 351.1,114.8 C352.8,115.2 354.5,115.8 356.2,116.4 C357.9,117.0 359.6,117.6 361.3,118.4 C363.0,119.2 364.8,120.7 366.4,121.5 C367.9,122.3 369.0,122.5 370.6,123.5 C372.2,124.5 374.3,125.8 376.2,127.4 C378.1,129.0 379.9,130.9 381.8,133.0 C383.7,135.1 385.7,136.5 387.4,139.7 C389.1,142.9 390.6,148.8 391.9,152.0 C393.2,155.2 394.1,157.3 395.0,159.2 C395.9,161.1 396.3,160.9 397.5,163.2 C398.7,165.5 400.1,169.0 402.0,173.2 C403.9,177.4 406.9,183.2 409.0,188.6 C411.1,194.0 412.9,199.8 414.6,205.4 C416.4,211.0 418.4,218.1 419.5,222.2 C420.6,226.3 419.8,225.5 420.9,230.0 C421.9,234.5 424.2,242.1 425.8,249.3 C427.4,256.6 429.2,267.6 430.6,273.5 C432.0,279.4 433.3,283.1 434.3,284.5 C435.3,285.9 435.9,285.4 436.7,282.0 C437.5,278.6 438.4,270.3 439.1,263.8 C439.8,257.3 440.4,249.7 440.9,243.2 C441.4,236.7 441.4,234.4 442.2,225.0 C443.0,215.6 444.4,199.8 445.5,186.5 C446.6,173.2 447.9,154.1 448.6,145.5 C449.3,136.9 449.1,139.4 449.5,135.0 C449.9,130.6 449.9,122.2 451.1,119.2 C452.3,116.2 454.7,117.7 456.9,117.0 C459.1,116.3 461.8,115.5 464.2,114.8 C466.6,114.1 469.1,112.8 471.5,112.6 C473.9,112.4 476.4,113.2 478.8,113.4 C481.2,113.7 483.7,113.8 486.1,114.1 C488.5,114.4 491.4,115.1 493.4,115.5 C495.3,115.9 496.1,116.6 497.8,116.3 C499.5,116.0 501.4,114.2 503.6,113.4 C505.8,112.6 508.2,111.8 510.9,111.2 C513.6,110.6 516.8,110.2 519.7,109.7 C522.6,109.2 525.5,108.6 528.4,108.2 C531.3,107.8 534.4,107.5 537.0,107.5 C539.6,107.5 541.7,108.0 544.0,108.1 C546.3,108.2 548.7,108.2 551.0,108.1 C553.3,108.0 555.7,107.8 558.0,107.5 C560.3,107.2 562.7,106.9 565.0,106.4 C567.3,105.9 569.7,104.9 572.0,104.6 C574.3,104.3 576.7,104.7 579.0,104.6 C581.3,104.5 583.7,104.1 586.0,104.0 C588.3,103.9 591.0,104.2 593.0,104.0 C595.0,103.8 596.4,103.6 597.7,102.8 C599.0,102.0 600.2,99.9 600.7,99.3" fill="none" stroke="#e2c94f" stroke-width="2.8" stroke-linejoin="round" stroke-linecap="round"/>
<rect x="113.3" y="12.3" width="37.3" height="27.9" fill="none" stroke="#e9785a" stroke-width="1.8"/>
<rect x="409" y="41.2" width="56.2" height="47.1" fill="none" stroke="#f5a93c" stroke-width="2.1"/>
<line x1="156.8" y1="49.6" x2="258.3" y2="273.3" stroke="#e9785a" stroke-width="2.3" stroke-linecap="round"/><path d="M263.3,284.2 L253.6,274.3 L257.9,272.4 L262.3,270.4 Z" fill="#e9785a"/>
<line x1="461.3" y1="94.1" x2="503.1" y2="274.7" stroke="#f5a93c" stroke-width="2.4" stroke-linecap="round"/><path d="M505.8,286.4 L498.2,274.8 L502.9,273.7 L507.5,272.7 Z" fill="#f5a93c"/>
<line x1="114.7" y1="238.8" x2="103.3" y2="256.8" stroke="#000" stroke-width="2" stroke-linecap="round"/><path d="M97.7,265.7 L100.3,253.7 L103.8,256.0 L107.4,258.2 Z" fill="#000"/>
<line x1="170.5" y1="171.8" x2="172.5" y2="205.2" stroke="#000" stroke-width="2" stroke-linecap="round"/><path d="M173.2,216.2 L168.2,204.5 L172.5,204.2 L176.7,204.0 Z" fill="#000"/>
<line x1="413.9" y1="231.2" x2="389.8" y2="256.5" stroke="#000" stroke-width="2" stroke-linecap="round"/><path d="M382.2,264.5 L387.2,252.7 L390.5,255.8 L393.7,258.9 Z" fill="#000"/>
<line x1="577.9" y1="126.8" x2="566.6" y2="156.0" stroke="#000" stroke-width="2" stroke-linecap="round"/><path d="M562.6,166.3 L563.0,153.6 L566.9,155.1 L570.9,156.6 Z" fill="#000"/>
<rect x="65.1" y="10" width="541.1" height="452" fill="none" stroke="#000" stroke-width="3.3"/>
<path d="M118.8,462 V457.5 M172.5,462 V457.5 M226.1,462 V457.5 M279.8,462 V457.5 M333.4,462 V457.5 M387.1,462 V457.5 M440.8,462 V457.5 M494.4,462 V457.5 M548.0,462 V457.5 M601.7,462 V457.5 M65,462.0 H70.5 M606,462.0 H600.5 M65,439.4 H68 M606,439.4 H603 M65,416.8 H70.5 M606,416.8 H600.5 M65,394.2 H68 M606,394.2 H603 M65,371.6 H70.5 M606,371.6 H600.5 M65,349.0 H68 M606,349.0 H603 M65,326.4 H70.5 M606,326.4 H600.5 M65,303.8 H68 M606,303.8 H603 M65,281.2 H70.5 M606,281.2 H600.5 M65,258.6 H68 M606,258.6 H603 M65,236.0 H70.5 M606,236.0 H600.5 M65,213.4 H68 M606,213.4 H603 M65,190.8 H70.5 M606,190.8 H600.5 M65,168.2 H68 M606,168.2 H603 M65,145.6 H70.5 M606,145.6 H600.5 M65,123.0 H68 M606,123.0 H603 M65,100.4 H70.5 M606,100.4 H600.5 M65,77.8 H68 M606,77.8 H603 M65,55.2 H70.5 M606,55.2 H600.5 M65,32.6 H68 M606,32.6 H603 M65,10.0 H70.5 M606,10.0 H600.5" stroke="#000" stroke-width="2.6" fill="none"/>
<g font-family="Liberation Serif, serif" font-size="21" fill="#111"><text x="60" y="468.0" text-anchor="end">0</text><text x="60" y="422.8" text-anchor="end">10</text><text x="60" y="377.6" text-anchor="end">20</text><text x="60" y="332.4" text-anchor="end">30</text><text x="60" y="287.2" text-anchor="end">40</text><text x="60" y="242.0" text-anchor="end">50</text><text x="60" y="196.8" text-anchor="end">60</text><text x="60" y="151.6" text-anchor="end">70</text><text x="60" y="106.4" text-anchor="end">80</text><text x="60" y="61.2" text-anchor="end">90</text><text x="60" y="16.0" text-anchor="end">100</text><text x="64.5" y="493" text-anchor="middle">0</text><text x="118.1" y="493" text-anchor="middle">100</text><text x="171.8" y="493" text-anchor="middle">200</text><text x="225.4" y="493" text-anchor="middle">300</text><text x="279.1" y="493" text-anchor="middle">400</text><text x="332.8" y="493" text-anchor="middle">500</text><text x="386.4" y="493" text-anchor="middle">600</text><text x="440.1" y="493" text-anchor="middle">700</text><text x="493.7" y="493" text-anchor="middle">800</text><text x="547.3" y="493" text-anchor="middle">900</text><text x="601.0" y="493" text-anchor="middle">1000</text><text x="610" y="15.5">0.6</text><text x="610" y="60.7">0.3</text><text x="610" y="105.9">0.0</text><text x="610" y="151.1">-0.3</text><text x="610" y="196.3">-0.6</text><text x="610" y="241.5">-0.9</text><text x="610" y="286.7">-1.2</text><text x="610" y="331.9">-1.5</text><text x="610" y="377.1">-1.8</text><text x="610" y="422.3">-2.1</text><text x="610" y="467.5">-2.4</text></g>
<text font-family="Liberation Serif, serif" font-size="30.6" fill="#111" text-anchor="middle" transform="translate(23.3,236.2) rotate(-90)">TG (%)</text>
<text font-family="Liberation Serif, serif" font-size="30.8" fill="#111" text-anchor="middle" transform="translate(676.8,230.6) rotate(-90)">DTG (%)</text>
<text font-family="Liberation Serif, serif" font-size="22.8" fill="#111" x="300" y="530" textLength="98.5" lengthAdjust="spacing">Temp (&#176;C)</text>
<g font-family="Liberation Serif, serif" font-size="18.6" fill="#111"><text transform="translate(77.6,288) scale(0.99,1)">AFt</text><text transform="translate(117.6,299.4) scale(0.99,1)">C-S-H</text><text transform="translate(168.2,235.9) scale(1.0,1)">Mc</text><text transform="translate(527.0,182.8) scale(1.02,1)">Gypsum</text><text transform="translate(262.6,233.4) scale(1.0,1)">Ca(OH)<tspan font-size="14.5" dy="4.2">2</tspan></text><text transform="translate(351.6,285.6) scale(1.0,1)">CaCO<tspan font-size="14.5" dy="4.4">3</tspan></text></g>
<rect x="91.2" y="331.1" width="117.9" height="106.4" fill="#000"/>
<rect x="86.6" y="327.2" width="118.5" height="106" fill="#fff" stroke="#000" stroke-width="3.3"/>
<line x1="88.5" y1="341.6" x2="137" y2="341.6" stroke="#d3182f" stroke-width="2.6"/>
<text font-family="Liberation Serif, serif" font-size="21" fill="#111" x="140.8" y="348.8">CL-S1</text>
<line x1="88.5" y1="367.4" x2="137" y2="367.4" stroke="#2b6597" stroke-width="2.6"/>
<text font-family="Liberation Serif, serif" font-size="21" fill="#111" x="140.8" y="374.6">CH-S0</text>
<line x1="88.5" y1="393.2" x2="137" y2="393.2" stroke="#6fcf9a" stroke-width="2.6"/>
<text font-family="Liberation Serif, serif" font-size="21" fill="#111" x="140.8" y="400.4">CL-A6</text>
<line x1="88.5" y1="419.3" x2="137" y2="419.3" stroke="#ddca52" stroke-width="2.6"/>
<text font-family="Liberation Serif, serif" font-size="21" fill="#111" x="140.8" y="426.5">CH-B6</text>
</svg></body></html>
